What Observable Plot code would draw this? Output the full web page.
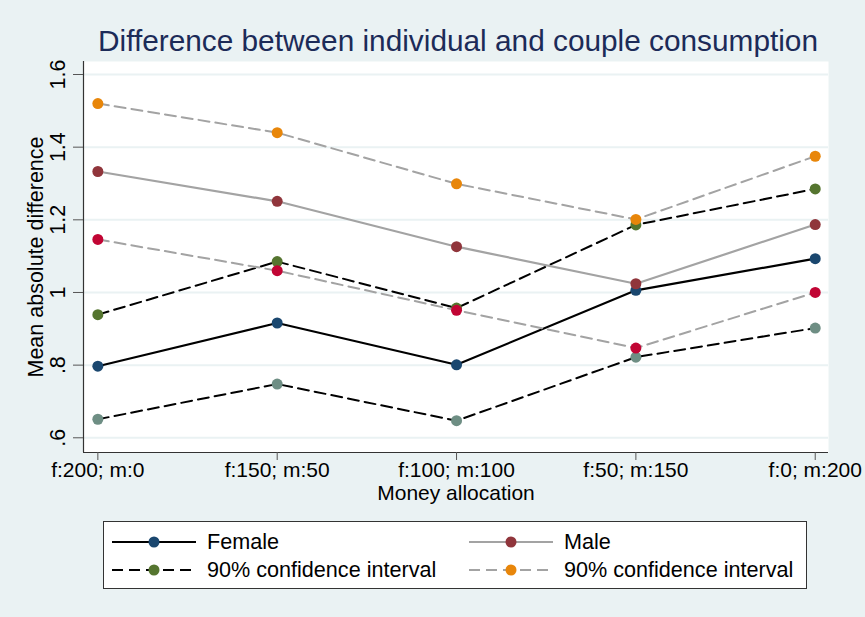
<!DOCTYPE html>
<html>
<head>
<meta charset="utf-8">
<script src="https://cdn.jsdelivr.net/npm/d3@7"></script>
<script src="https://cdn.jsdelivr.net/npm/@observablehq/plot@0.6"></script>
<style>
  html, body { margin: 0; padding: 0; background: #eaf2f3; }
  body { width: 865px; height: 617px; position: relative; overflow: hidden; font-family: "Liberation Sans", Arial, sans-serif; }
  #title { position: absolute; left: 0; top: 0; width: 865px; height: 56px; }
  #title span { position: absolute; left: 98px; top: 26px; font-size: 29.8px; color: #1c2b58; white-space: nowrap; line-height: 1; }
  #chart { position: absolute; left: 0; top: 56px; }
  #legend { position: absolute; left: 103px; top: 521px; width: 704px; height: 68px; background: #fff; border: 1px solid #333; box-sizing: border-box; }
  .item { position: absolute; height: 24px; display: flex; align-items: center; font-size: 21.6px; color: #000; white-space: nowrap; }
  .item svg { margin-right: 11px; }
</style>
</head>
<body>
<div id="title"><span>Difference between individual and couple consumption</span></div>
<div id="chart"></div>
<div id="legend"></div>
<script>
// ---- data ----
const xLabels = ["f:200; m:0", "f:150; m:50", "f:100; m:100", "f:50; m:150", "f:0; m:200"];
const female   = [0.797, 0.916, 0.801, 1.006, 1.093];
const femaleHi = [0.939, 1.085, 0.957, 1.186, 1.285];
const femaleLo = [0.651, 0.748, 0.647, 0.822, 0.902];
const male     = [1.333, 1.251, 1.126, 1.024, 1.187];
const maleHi   = [1.520, 1.440, 1.299, 1.201, 1.375];
const maleLo   = [1.146, 1.060, 0.951, 0.847, 1.000];
const yTicks = [0.6, 0.8, 1.0, 1.2, 1.4, 1.6];
const yTickLabels = [".6", ".8", "1", "1.2", "1.4", "1.6"];
const seriesNames = ["Female", "Female upper CI", "Female lower CI", "Male", "Male upper CI", "Male lower CI"];

// ---- styles ----
const series = [
  {name: seriesNames[0], values: female,   stroke: "#000000", dash: null,   dot: "#1a476f", w: 2.2},
  {name: seriesNames[1], values: femaleHi, stroke: "#000000", dash: "11,6", dot: "#55752f", w: 2},
  {name: seriesNames[2], values: femaleLo, stroke: "#000000", dash: "11,6", dot: "#6e8e84", w: 2},
  {name: seriesNames[3], values: male,     stroke: "#a3a3a3", dash: null,   dot: "#90353b", w: 2.2},
  {name: seriesNames[4], values: maleHi,   stroke: "#a3a3a3", dash: "11,6", dot: "#e8860a", w: 2},
  {name: seriesNames[5], values: maleLo,   stroke: "#a3a3a3", dash: "11,6", dot: "#c10534", w: 2}
];

const xDomain = [-0.08, 4.074];
const yDomain = [0.5595, 1.6358];

const marks = [
  Plot.frame({fill: "white", stroke: "none"}),
  Plot.ruleY(yTicks, {stroke: "#eaf2f3", strokeWidth: 2}),
  Plot.ruleX([xDomain[0]], {stroke: "#333", strokeWidth: 1.2}),
  Plot.ruleY([yDomain[0]], {stroke: "#333", strokeWidth: 1.2}),
  Plot.axisY({ticks: yTicks, tickSize: 10, tickFormat: () => "", label: null, stroke: "#555"}),
  Plot.text(yTicks, {y: d => d, text: (d, i) => yTickLabels[i], frameAnchor: "left", dx: -25, rotate: -90,
    textAnchor: "middle", lineAnchor: "middle", fontSize: 21.5, fill: "#000"}),
  Plot.text(["Mean absolute difference"], {frameAnchor: "left", dx: -47, rotate: -90,
    textAnchor: "middle", lineAnchor: "middle", fontSize: 21.5, fill: "#000"}),
  Plot.axisX({ticks: [0, 1, 2, 3, 4], tickFormat: i => xLabels[i], tickSize: 8, tickPadding: 2,
    fontSize: 21, label: null, stroke: "#555", fill: "#000"}),
  Plot.text(["Money allocation"], {frameAnchor: "bottom", dy: 41, textAnchor: "middle",
    lineAnchor: "middle", fontSize: 21, fill: "#000"})
];

for (const s of series) {
  const rows = s.values.map((v, i) => ({i, v}));
  marks.push(Plot.line(rows, {x: "i", y: "v", stroke: s.stroke, strokeWidth: s.w,
    strokeDasharray: s.dash ?? undefined}));
  marks.push(Plot.dot(rows, {x: "i", y: "v", fill: s.dot, r: 5.5, stroke: "none"}));
}

const chart = Plot.plot({
  width: 865,
  height: 454,
  marginTop: 5,
  marginBottom: 58,
  marginLeft: 83,
  marginRight: 37,
  style: {background: "transparent", fontFamily: "'Liberation Sans', Arial, sans-serif", fontSize: "21px", color: "#000"},
  x: {type: "linear", domain: xDomain},
  y: {type: "linear", domain: yDomain},
  marks
});
document.getElementById("chart").appendChild(chart);

// ---- legend ----
const legendItems = [
  {label: "Female", s: series[0], left: 8, top: 8},
  {label: "Male", s: series[3], left: 365, top: 8},
  {label: "90% confidence interval", s: series[1], left: 8, top: 36},
  {label: "90% confidence interval", s: series[4], left: 365, top: 36}
];
const legend = document.getElementById("legend");
for (const it of legendItems) {
  const div = document.createElement("div");
  div.className = "item";
  div.style.left = it.left + "px";
  div.style.top = it.top + "px";
  const dash = it.s.dash ? `stroke-dasharray="11,6"` : "";
  div.innerHTML = `<svg width="84" height="24"><line x1="0" y1="12" x2="84" y2="12" stroke="${it.s.stroke}" stroke-width="${it.s.w}" ${dash}/><circle cx="42" cy="12" r="5.5" fill="${it.s.dot}"/></svg><span>${it.label}</span>`;
  legend.appendChild(div);
}
</script>
</body>
</html>
